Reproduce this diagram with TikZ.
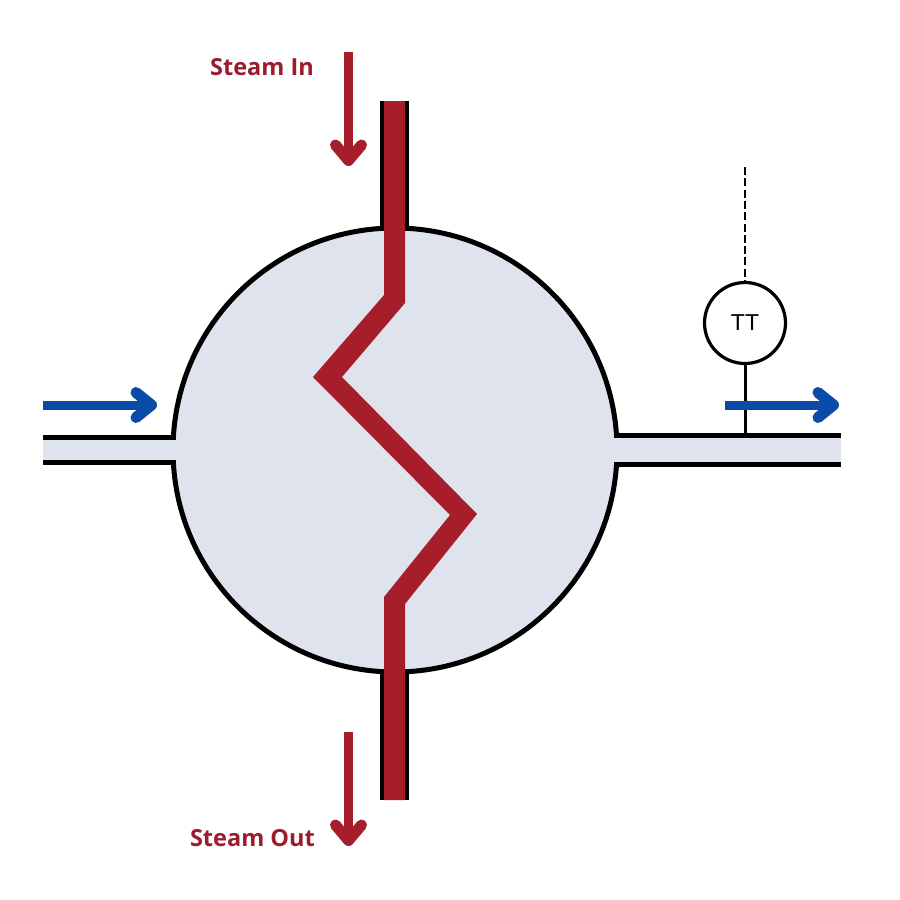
\documentclass[tikz,border=0pt]{standalone}
\usepackage{fontspec}
\setmainfont{Open Sans}
\newfontfamily\ttlabel{Liberation Sans}
\definecolor{steam}{HTML}{A61E2A}
\definecolor{steamtxt}{HTML}{9B1C2C}
\definecolor{flow}{HTML}{0A4BA8}
\definecolor{body}{HTML}{DFE3EE}
\tikzset{
  x=1pt,y=-1pt,
  outline/.style={draw=black,line width=5pt},
  pipeline/.style={black,line width=5pt},
  flowshaft/.style={line width=9pt},
  flowhead/.style={line width=11pt,line cap=round,line join=round},
  steamlabel/.style={text=steamtxt,font=\fontsize{23.5}{26}\selectfont\bfseries,inner sep=0pt},
}
\begin{document}
\begin{tikzpicture}
\useasboundingbox (0,0) rectangle (900,900);
\fill[white] (0,0) rectangle (900,900);
% steam pipe casing
\fill[black] (380,101) rectangle (409,232);
\fill[black] (380,668) rectangle (409,800);
% pipes
\fill[body] (43,438) rectangle (180,461);
\fill[body] (610,437) rectangle (841,463);
% vessel
\node[circle,minimum size=444pt,inner sep=0pt,outline,fill=body] (vessel) at (395,450) {};
\fill[body] (165,439.5) rectangle (185,459.5);
\fill[body] (605,438) rectangle (625,462);
\coordinate (lin1) at (43,437);
\coordinate (lin1e) at (176,437);
\coordinate (lin2) at (43,462);
\coordinate (lin2e) at (176,462);
\coordinate (rout1) at (841,435.5);
\coordinate (rout1e) at (615,435.5);
\coordinate (rout2) at (841,464.5);
\coordinate (rout2e) at (615,464.5);
\draw[pipeline] (lin1) -- (lin1e);
\draw[pipeline] (lin2) -- (lin2e);
\draw[pipeline] (rout1) -- (rout1e);
\draw[pipeline] (rout2) -- (rout2e);
% steam coil
\fill[steam] (384,101) -- (405,101) -- (405,303) -- (342,377) -- (477,514) -- (405,604) -- (405,800) -- (384,800) -- (384,597) -- (450,515) -- (313,377) -- (384,295) -- cycle;
% transmitter
\node[circle,draw=black,line width=3.2pt,fill=white,minimum size=81pt,inner sep=0pt,font=\ttlabel\fontsize{23}{26}\selectfont,text=black] (tt) at (745,323) {TT};
\coordinate (tap) at (745,434);
\coordinate (sig) at (745,167);
\draw[black,line width=3pt] (tt) -- (tap);
\draw[black,line width=2.8pt,dash pattern=on 8pt off 3.3pt] (sig) -- (tt);
% steam arrows
\coordinate (a1s) at (348.5,52);
\coordinate (a1t) at (348.5,160.5);
\coordinate (a1l) at (335.5,145);
\coordinate (a1r) at (361.5,145);
\draw[steam,flowshaft] (a1s) -- (a1t);
\draw[steam,flowhead] (a1l) -- (a1t) -- (a1r);
\coordinate (a2s) at (348.5,732);
\coordinate (a2t) at (348.5,840.5);
\coordinate (a2l) at (335.5,825);
\coordinate (a2r) at (361.5,825);
\draw[steam,flowshaft] (a2s) -- (a2t);
\draw[steam,flowhead] (a2l) -- (a2t) -- (a2r);
% flow arrows
\coordinate (b1s) at (43,405);
\coordinate (b1t) at (151.5,405);
\coordinate (b1l) at (136,392.5);
\coordinate (b1r) at (136,417.5);
\draw[flow,flowshaft] (b1s) -- (b1t);
\draw[flow,flowhead] (b1l) -- (b1t) -- (b1r);
\coordinate (b2s) at (725,405);
\coordinate (b2t) at (833.5,405);
\coordinate (b2l) at (818,392.5);
\coordinate (b2r) at (818,417.5);
\draw[flow,flowshaft] (b2s) -- (b2t);
\draw[flow,flowhead] (b2l) -- (b2t) -- (b2r);
% labels
\node[steamlabel,anchor=base east] (lin) at (314,75) {Steam In};
\node[steamlabel,anchor=base east] (lout) at (315,846) {Steam Out};
\end{tikzpicture}
\end{document}
